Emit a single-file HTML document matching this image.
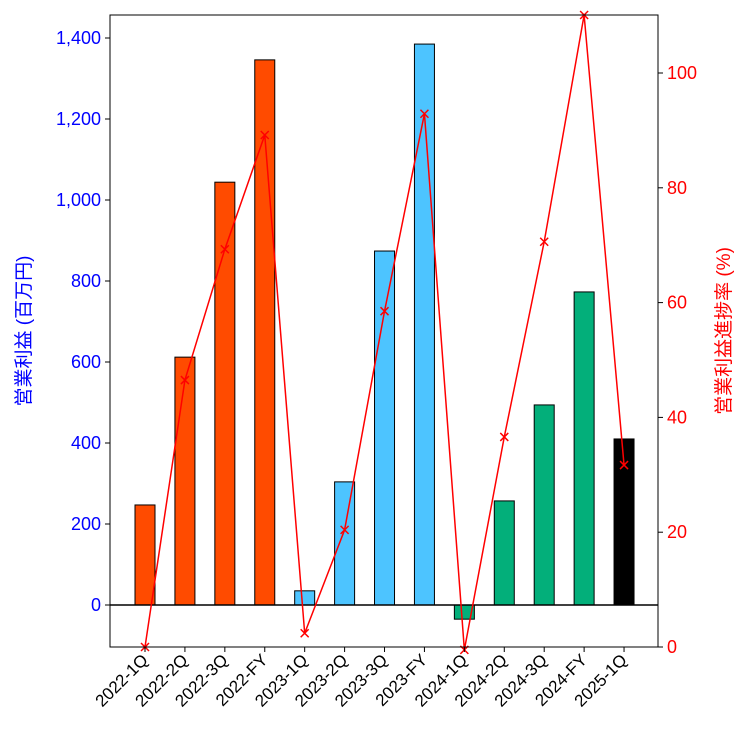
<!DOCTYPE html>
<html><head><meta charset="utf-8"><style>
html,body{margin:0;padding:0;background:#fff;}
svg{display:block;font-family:"Liberation Sans","Noto Sans CJK JP",sans-serif;}
</style></head><body>
<svg id="chart" width="750" height="750" viewBox="0 0 750 750"></svg>
<script>
const categories=["2022-1Q","2022-2Q","2022-3Q","2022-FY","2023-1Q","2023-2Q","2023-3Q","2023-FY","2024-1Q","2024-2Q","2024-3Q","2024-FY","2025-1Q"];
const profitValues=[247,612,1044,1346,35,304,874,1385,-35,257,494,773,410];
const progressValues=[0,46.5,69.3,89.2,2.4,20.4,58.5,92.9,-0.5,36.6,70.6,110.1,31.7];
const barColors=["#FF4B00","#FF4B00","#FF4B00","#FF4B00","#4DC4FF","#4DC4FF","#4DC4FF","#4DC4FF","#03AF7A","#03AF7A","#03AF7A","#03AF7A","#000000"];
const leftTicks=[0,200,400,600,800,1000,1200,1400];
const leftTickLabels=["0","200","400","600","800","1,000","1,200","1,400"];
const rightTicks=[0,20,40,60,80,100];

const NS="http://www.w3.org/2000/svg";
const svg=document.getElementById("chart");
const L=110,R=658,T=15,B=647;
const yL=v=>605-v*0.405;
const yR=v=>647-v*5.74;
const xC=i=>145+i*39.92;
function mk(tag,attrs,parent){const e=document.createElementNS(NS,tag);for(const k in attrs)e.setAttribute(k,attrs[k]);(parent||svg).appendChild(e);return e;}

// bars
categories.forEach((c,i)=>{
  const v=profitValues[i];
  const y0=yL(0),y1=yL(v);
  const r=mk("rect",{x:xC(i)-10,y:Math.min(y0,y1),width:20,height:Math.abs(y1-y0),fill:barColors[i],stroke:"#000","stroke-width":1});
  
  
});
// zero line
const zl=mk("line",{x1:L,x2:R,y1:yL(0),y2:yL(0),stroke:"#000","stroke-width":1.5});



// progress line
const pts=progressValues.map((v,i)=>xC(i)+","+yR(v)).join(" ");
const pl=mk("polyline",{points:pts,fill:"none",stroke:"#FF0000","stroke-width":1.5});


progressValues.forEach((v,i)=>{
  const x=xC(i),y=yR(v);
  const g=mk("path",{d:`M${x-4},${y-4}L${x+4},${y+4}M${x-4},${y+4}L${x+4},${y-4}`,stroke:"#FF0000","stroke-width":1.5});
  
  
});

// frame
const fr=mk("rect",{x:L,y:T,width:R-L,height:B-T,fill:"none",stroke:"#000","stroke-width":1});



// left ticks
leftTicks.forEach((v,i)=>{
  const y=yL(v);
  mk("line",{x1:L-5,x2:L,y1:y,y2:y,stroke:"#000"});
  const t=mk("text",{x:L-9,y:y+6,"text-anchor":"end","font-size":18,fill:"#0000FF"});
  t.textContent=leftTickLabels[i];
  
  
});
// right ticks
rightTicks.forEach(v=>{
  const y=yR(v);
  mk("line",{x1:R,x2:R+5,y1:y,y2:y,stroke:"#000"});
  const t=mk("text",{x:R+9,y:y+6,"text-anchor":"start","font-size":18,fill:"#FF0000"});
  t.textContent=String(v);
  
  
});
// x ticks
categories.forEach((c,i)=>{
  const x=xC(i);
  mk("line",{x1:x,x2:x,y1:B,y2:B+5,stroke:"#000"});
  const t=mk("text",{x:x+4,y:B+14,"text-anchor":"end","font-size":17,fill:"#000",transform:`rotate(-45 ${x+4} ${B+14})`});
  t.textContent=c;
  
  
});
// axis titles
const lt=mk("text",{x:30,y:331,"text-anchor":"middle","font-size":19,fill:"#0000FF",transform:"rotate(-90 30 331)"});
lt.textContent="営業利益 (百万円)";


const rt=mk("text",{x:730,y:331,"text-anchor":"middle","font-size":19,fill:"#FF0000",transform:"rotate(-90 730 331)"});
rt.textContent="営業利益進捗率 (%)";


</script>
</body></html>
